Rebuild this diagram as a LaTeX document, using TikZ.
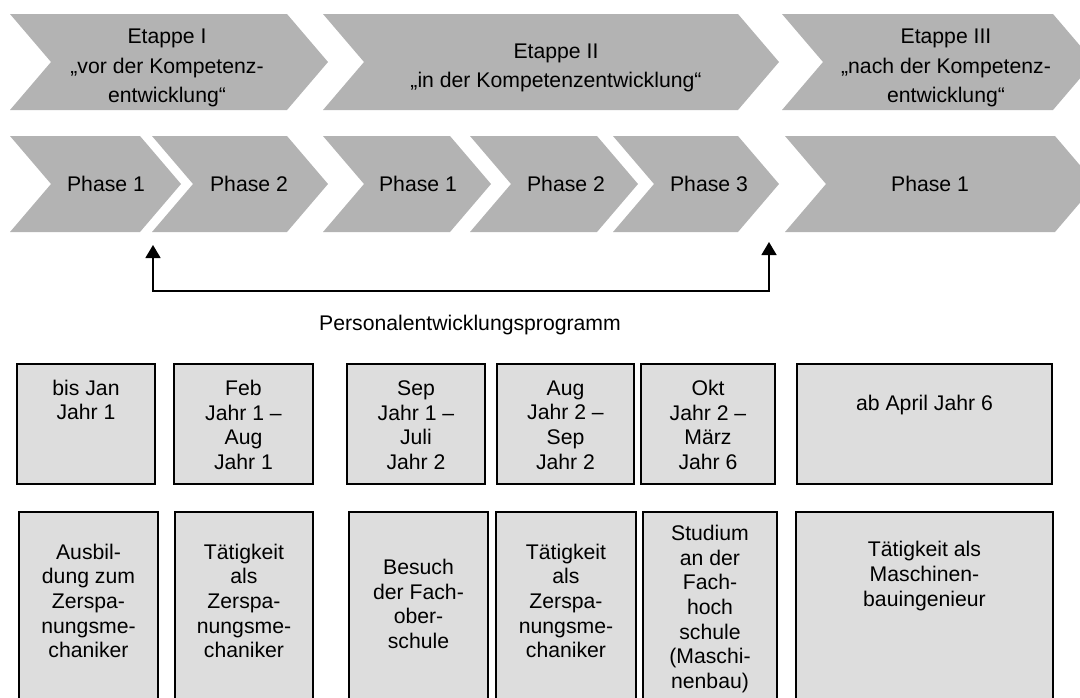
\documentclass[tikz,border=0pt]{standalone}
\usepackage{fontspec}
\setmainfont{Liberation Sans}
\usetikzlibrary{arrows.meta}
\definecolor{chevgray}{RGB}{179,179,179}
\definecolor{boxgray}{RGB}{221,221,221}

% chevron: #1 name, #2 left, #3 right, #4 top, #5 bottom, #6 text x, #7 text y, #8 text
\newcommand\drawchevron[8]{%
  \pgfmathsetmacro\chmid{(#4+#5)/2}%
  \pgfmathsetmacro\chtip{#3+41}%
  \pgfmathsetmacro\chnotch{#2+41}%
  \fill[chevgray] (#2,#4) -- (#3,#4) -- (\chtip,\chmid) -- (#3,#5) -- (#2,#5) -- (\chnotch,\chmid) -- cycle;
  \node[lbl] (#1) at (#6,#7) {#8};
}

\begin{document}
\begin{tikzpicture}[x=1pt,y=-1pt,
  lbl/.style={font=\fontsize{21.2}{29.3}\selectfont, align=center, inner sep=0pt},
  boxtxt/.style={font=\fontsize{21.2}{24.6}\selectfont, align=center, inner sep=0pt},
  datebox/.style={draw=black, fill=boxgray, line width=1.5pt},
  link/.style={draw=black, line width=1.5pt, {Triangle[length=13pt,width=15pt]}-{Triangle[length=13pt,width=15pt]}}
]
\clip (0,0) rectangle (1080,697);

% stages
\drawchevron{etA}{10}{287}{14}{110}{167}{68}{Etappe I\\„vor der Kompetenz-\\entwicklung“}
\drawchevron{etB}{323}{738}{14}{110}{556}{68}{Etappe II\\„in der Kompetenzentwicklung“}
\drawchevron{etC}{782}{1053}{14}{110}{946}{68}{Etappe III\\„nach der Kompetenz-\\entwicklung“}

% phases
\drawchevron{phA}{10}{140}{136}{232}{106}{184}{Phase 1}
\drawchevron{phB}{152}{287}{136}{232}{249}{184}{Phase 2}
\drawchevron{phC}{323}{450}{136}{232}{418}{184}{Phase 1}
\drawchevron{phD}{470}{597}{136}{232}{566}{184}{Phase 2}
\drawchevron{phE}{613}{738}{136}{232}{709}{184}{Phase 3}
\drawchevron{phF}{785}{1055}{136}{232}{930}{184}{Phase 1}

% programme bracket
\coordinate (pA) at (153,245);
\coordinate (pB) at (769,242);
\draw[link] (pA) -- (153,291) -| (pB);
\node[boxtxt] (prog) at (470,325) {Personalentwicklungsprogramm};

% time spans
\draw[datebox] (17,364) rectangle (155,484);
\draw[datebox] (174,364) rectangle (313,484);
\draw[datebox] (347,364) rectangle (485,484);
\draw[datebox] (497,364) rectangle (634,484);
\draw[datebox] (641,364) rectangle (775,484);
\draw[datebox] (797,364) rectangle (1052,484);
\node[boxtxt] (tA) at (86,400) {bis Jan\\Jahr 1};
\node[boxtxt] (tB) at (243.5,425) {Feb\\Jahr 1 –\\Aug\\Jahr 1};
\node[boxtxt] (tC) at (416,425) {Sep\\Jahr 1 –\\Juli\\Jahr 2};
\node[boxtxt] (tD) at (565.5,425) {Aug\\Jahr 2 –\\Sep\\Jahr 2};
\node[boxtxt] (tE) at (708,425) {Okt\\Jahr 2 –\\März\\Jahr 6};
\node[boxtxt] (tF) at (924.5,405) {ab April Jahr 6};

% activities
\draw[datebox] (19,512) rectangle (158,720);
\draw[datebox] (175,512) rectangle (313,720);
\draw[datebox] (349,512) rectangle (488,720);
\draw[datebox] (496,512) rectangle (636,720);
\draw[datebox] (643,512) rectangle (777,720);
\draw[datebox] (796,512) rectangle (1053,720);
\node[boxtxt] (aA) at (88.5,601) {Ausbil-\\dung zum\\Zerspa-\\nungsme-\\chaniker};
\node[boxtxt] (aB) at (244,601) {Tätigkeit\\als\\Zerspa-\\nungsme-\\chaniker};
\node[boxtxt] (aC) at (418.5,604) {Besuch\\der Fach-\\ober-\\schule};
\node[boxtxt] (aD) at (566,601) {Tätigkeit\\als\\Zerspa-\\nungsme-\\chaniker};
\node[boxtxt] (aE) at (710,609) {Studium\\an der\\Fach-\\hoch\\schule\\(Maschi-\\nenbau)};
\node[boxtxt] (aF) at (924.5,576) {Tätigkeit als\\Maschinen-\\bauingenieur};
\end{tikzpicture}
\end{document}
